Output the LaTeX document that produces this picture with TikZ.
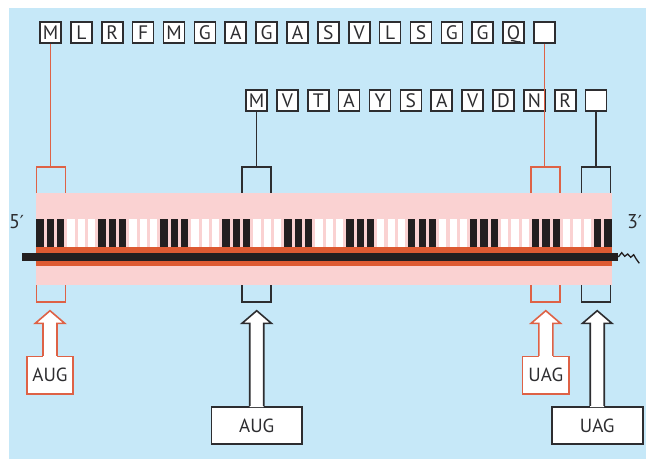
\documentclass[tikz,border=0pt]{standalone}
\usepackage{fontspec}
\setmainfont{PT Sans}
\newfontfamily\primefont{DejaVu Sans}
\usetikzlibrary{calc}
\definecolor{bgblue}{RGB}{198,232,248}
\definecolor{pinkband}{RGB}{250,210,210}
\definecolor{orangeband}{RGB}{221,90,50}
\definecolor{redline}{RGB}{222,98,70}
\definecolor{darkline}{RGB}{45,45,48}
\definecolor{barblack}{RGB}{35,31,32}
\newcommand\geneup[2]{%
  \fill[white] let \p1=(#1.north) in
    (\x1-7pt,\y1-1.2pt) -- (\x1-7pt,-323.3pt) -- (\x1-14.7pt,-323.3pt) -- (\x1,-310.7pt)
    -- (\x1+14.7pt,-323.3pt) -- (\x1+7pt,-323.3pt) -- (\x1+7pt,\y1-1.2pt) -- cycle;
  \draw[#2,arrline] let \p1=(#1.north) in
    (\x1-7pt,\y1) -- (\x1-7pt,-323.3pt) -- (\x1-14.7pt,-323.3pt) -- (\x1,-310.7pt)
    -- (\x1+14.7pt,-323.3pt) -- (\x1+7pt,-323.3pt) -- (\x1+7pt,\y1);
}
\begin{document}
\begin{tikzpicture}[x=1pt,y=-1pt,
  aabox/.style={draw=darkline,line width=1.6pt,fill=white,minimum width=21pt,minimum height=21pt,
    inner sep=0pt,text height=13.6pt,text depth=0pt,font=\fontsize{19.5}{20}\selectfont,text=darkline},
  bracket/.style={draw=#1,line width=1.4pt,minimum width=29pt,minimum height=135pt,inner sep=0pt},
  conn/.style={draw=#1,line width=1.4pt},
  codonbox/.style={draw=#1,line width=1.6pt,fill=white,inner sep=0pt,minimum height=37.5pt,
    font=\fontsize{19}{20}\selectfont,text=darkline},
  arrline/.style={line width=1.6pt,line join=miter},
  endlabel/.style={inner sep=0pt,font=\fontsize{20}{20}\selectfont,text=darkline}]
\useasboundingbox (0,0) rectangle (646,459);
\fill[bgblue] (9,8) rectangle (646,459);
% brackets (behind the band)
\node[bracket=redline] (brA1) at (50.8,234.5) {};
\node[bracket=darkline] (brA2) at (256.4,234.5) {};
\node[bracket=redline] (brS1) at (545.5,234.5) {};
\node[bracket=darkline] (brS2) at (596.2,234.5) {};
% band
\fill[pinkband] (36.3,193) rectangle (612,285);
\foreach \i in {0,...,55}{%
  \pgfmathsetmacro\xx{36.3+10.33*\i}%
  \pgfmathsetmacro\xe{min(\xx+7.3,612)}%
  \pgfmathtruncatemacro\g{mod(int(\i/3),2)}%
  \ifnum\g=0 \def\cc{barblack}\else\def\cc{white}\fi
  \fill[\cc] (\xx,219) rectangle (\xe,247.3);
}
\fill[orangeband] (36.3,247.3) rectangle (612,266);
\fill[barblack] (21.7,253.3) rectangle (618.3,260.7);
\coordinate (tailstart) at (618.3,257);
\draw[barblack,line width=1.3pt,line join=miter] (tailstart) -- (621.7,252.7) -- (624.7,256.3) -- (627.7,254) -- (630.7,257.3) -- (633.7,254.7) -- (636,258.7) -- (639.3,263.3);
% end labels
\node[endlabel] (five) at (16.5,222) {5{\primefont\fontsize{18}{18}\selectfont ′}};
\node[endlabel] (three) at (634.5,221.5) {3{\primefont\fontsize{18}{18}\selectfont ′}};
% protein rows
\foreach \l [count=\i from 0] in {M,L,R,F,M,G,A,G,A,S,V,L,S,G,G,Q,{}}
  \node[aabox] (a\i) at ({50.5+30.87*\i},32.3) {\l};
\foreach \l [count=\i from 0] in {M,V,T,A,Y,S,A,V,D,N,R,{}}
  \node[aabox] (b\i) at ({256.5+30.87*\i},100.6) {\l};
% connectors
\draw[conn=redline] (a0.south) -- (a0.south |- brA1.north);
\draw[conn=darkline] (b0.south) -- (b0.south |- brA2.north);
\draw[conn=redline] (a16.south) -- (a16.south |- brS1.north);
\draw[conn=darkline] (b11.south) -- (b11.south |- brS2.north);
% codon arrows
\node[codonbox=redline,minimum width=46pt] (augR) at (50,375.3) {AUG};
\node[codonbox=darkline,minimum width=90.7pt] (augB) at (256.7,425.5) {AUG};
\node[codonbox=redline,minimum width=46.3pt] (uagR) at (545.8,375.3) {UAG};
\node[codonbox=darkline,minimum width=91pt] (uagB) at (597.2,425.5) {UAG};
\geneup{augR}{redline}
\geneup{augB}{darkline}
\geneup{uagR}{redline}
\geneup{uagB}{darkline}
\end{tikzpicture}
\end{document}
